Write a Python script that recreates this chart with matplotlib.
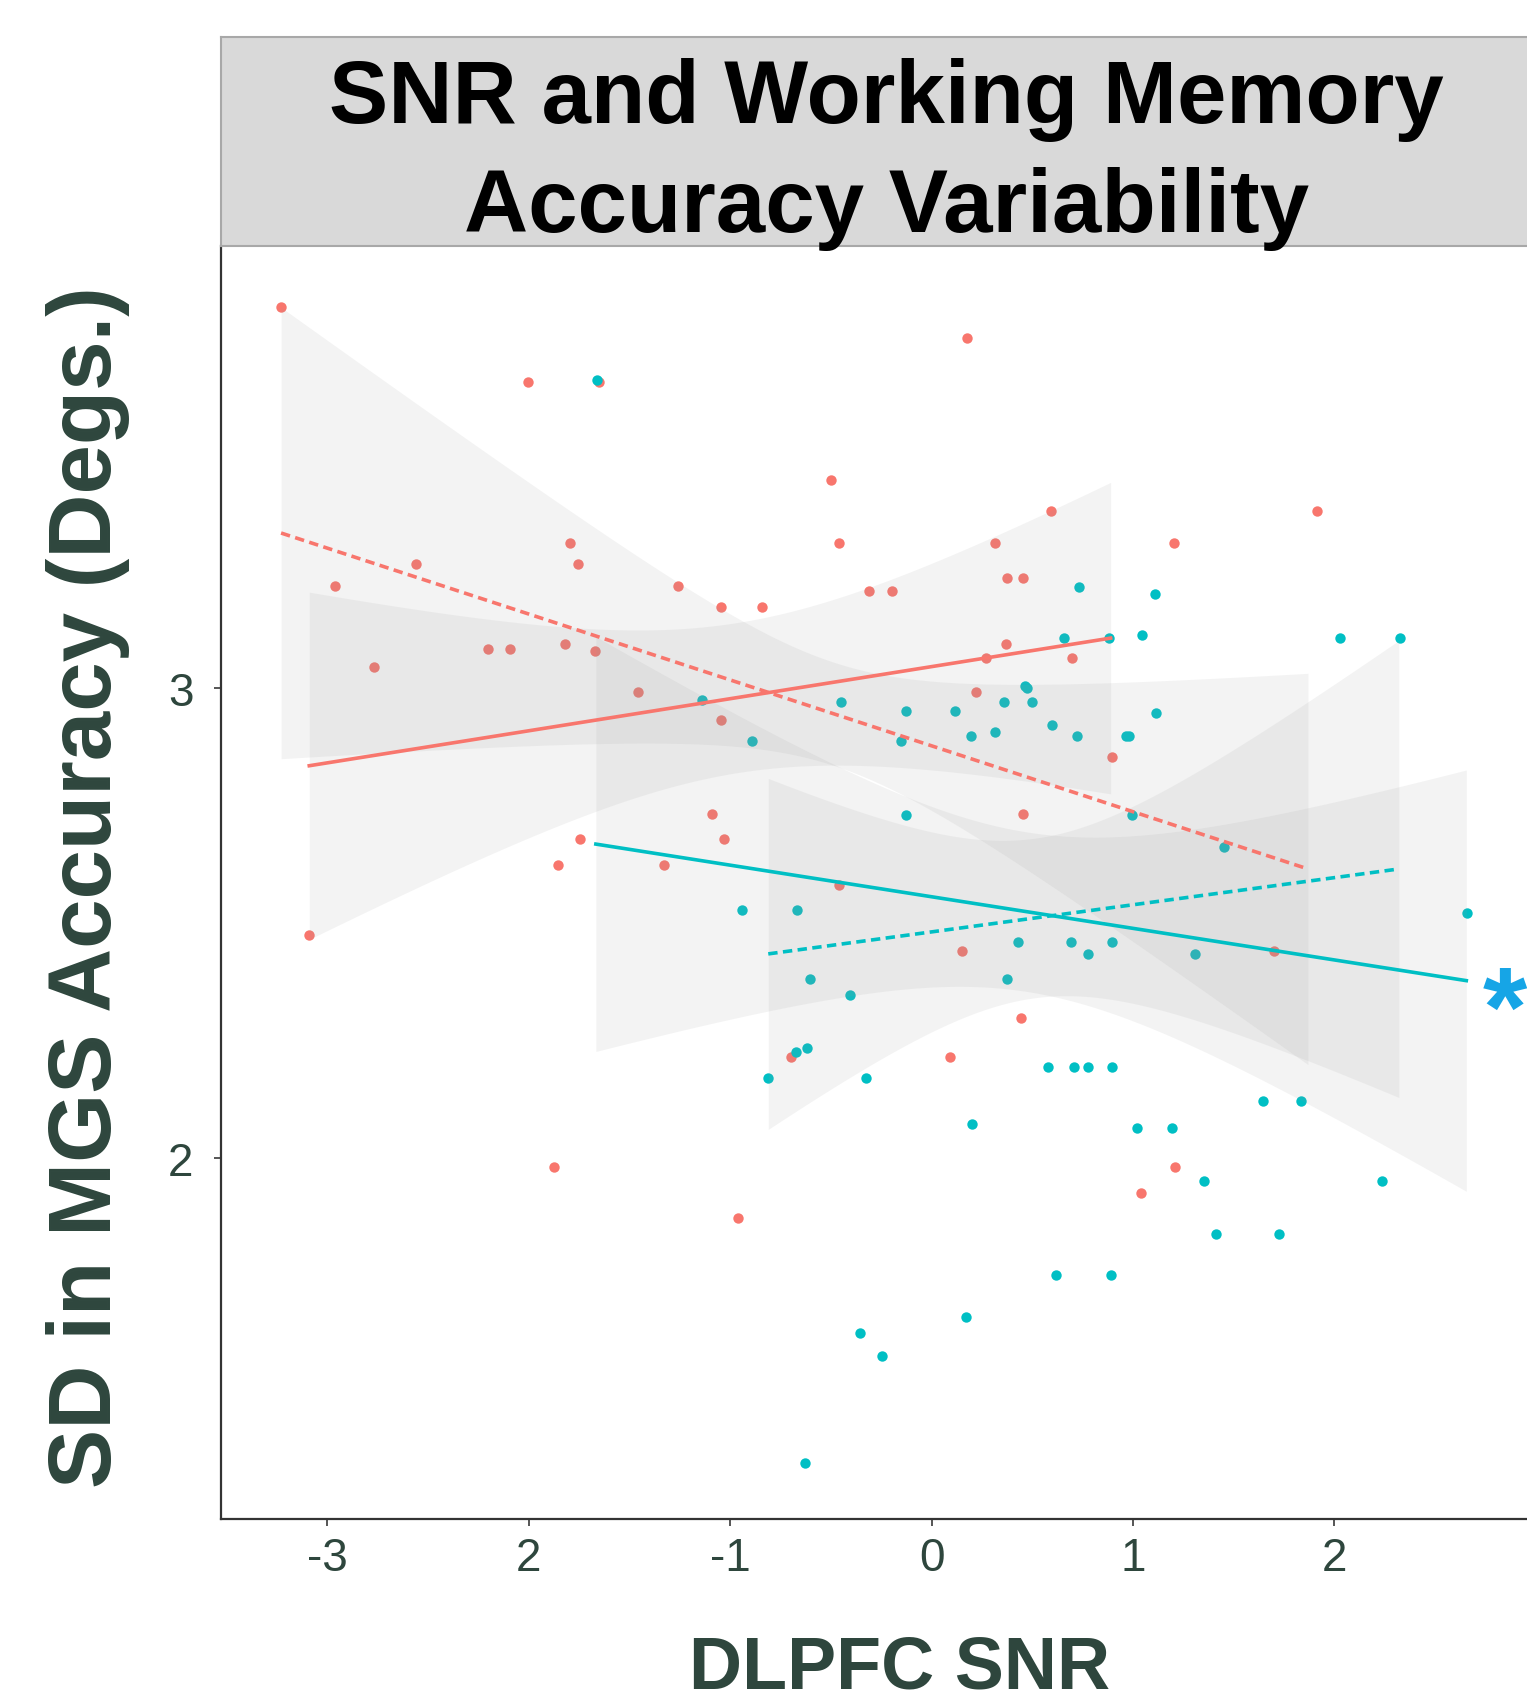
import numpy as np
import matplotlib
matplotlib.use("Agg")
import matplotlib.pyplot as plt

plt.rcParams['font.family'] = ['Liberation Sans', 'DejaVu Sans']

# ---------------- data ----------------
red_x = [-3.230, -2.002, -1.650, 0.178, -0.501, 0.595, 1.915, -1.795, -0.459, 0.314,
         1.203, -2.560, -1.754, 0.376, 0.455, -2.961, -1.258, -0.310, -0.199, -1.047,
         -0.840, -2.205, -2.093, -1.820, -1.671, 0.368, -2.771, 0.269, 0.699, -1.456,
         0.219, -1.047, 0.897, -1.092, 0.455, -1.030, -1.746, -1.857, -1.328, -0.459,
         -3.090, 0.149, 1.699, 0.446, 0.091, -0.699, -1.874, 1.211, 1.038, -0.960]
red_y = [3.812, 3.653, 3.653, 3.747, 3.445, 3.378, 3.378, 3.310, 3.310, 3.310,
         3.310, 3.265, 3.265, 3.235, 3.235, 3.219, 3.219, 3.208, 3.208, 3.174,
         3.174, 3.084, 3.084, 3.095, 3.079, 3.095, 3.046, 3.064, 3.064, 2.993,
         2.993, 2.933, 2.853, 2.732, 2.732, 2.679, 2.679, 2.623, 2.623, 2.580,
         2.475, 2.441, 2.441, 2.298, 2.215, 2.215, 1.980, 1.980, 1.925, 1.872]

teal_x = [-1.663, 0.732, 1.108, 0.657, 0.881, 1.046, 2.026, 2.324, 0.463, 0.475,
          -1.138, -0.451, 0.360, 0.500, -0.128, 0.116, 1.112, 0.599, 0.194, 0.314,
          0.723, 0.967, 0.980, -0.894, -0.153, -0.128, 0.996, 1.451, 2.659, -0.943,
          -0.666, 0.430, 0.690, 0.897, 0.777, 1.307, -0.604, 0.376, -0.406, -0.621,
          -0.674, -0.811, -0.327, 0.579, 0.707, 0.777, 0.897, 1.646, 1.836, 0.202,
          1.021, 1.195, 1.352, 2.237, 1.410, 1.724, 0.620, 0.889, 0.173, -0.357,
          -0.248, -0.627]
teal_y = [3.658, 3.216, 3.201, 3.107, 3.107, 3.114, 3.107, 3.107, 3.005, 3.000,
          2.975, 2.970, 2.970, 2.970, 2.951, 2.951, 2.948, 2.921, 2.899, 2.906,
          2.899, 2.899, 2.899, 2.887, 2.887, 2.729, 2.729, 2.661, 2.521, 2.528,
          2.528, 2.460, 2.460, 2.460, 2.434, 2.434, 2.381, 2.381, 2.347, 2.234,
          2.224, 2.169, 2.169, 2.192, 2.192, 2.192, 2.192, 2.120, 2.120, 2.071,
          2.063, 2.063, 1.950, 1.950, 1.838, 1.838, 1.749, 1.749, 1.660, 1.625,
          1.577, 1.349]

# regression fits (start/end of fitted line) and CI half widths
fit_color = ['red', 'red', 'teal', 'teal']
fit_style = ['dashed', 'solid', 'solid', 'dashed']
fit_x_start = [-3.230, -3.090, -1.667, -0.811]
fit_x_end = [1.869, 0.889, 2.655, 2.320]
fit_y_start = [3.331, 2.835, 2.668, 2.434]
fit_y_end = [2.615, 3.107, 2.377, 2.615]
ci_half_start = [0.481, 0.370, 0.442, 0.374]
ci_half_end = [0.417, 0.332, 0.449, 0.487]
ci_half_min = [0.11, 0.16, 0.17, 0.17]

x_ticks = [-3, -2, -1, 0, 1, 2]
x_tick_labels = ['-3', '2', '-1', '0', '1', '2']
y_ticks = [2, 3]
y_tick_labels = ['2', '3']

title_lines = ['SNR and Working Memory', 'Accuracy Variability']
x_label = 'DLPFC SNR'
y_label = 'SD in MGS Accuracy (Degs.)'

# ---------------- style ----------------
COL = {'red': '#F8766D', 'teal': '#00BFC4'}
TXT = '#2E463D'
W, H = 1527, 1706

fig = plt.figure(figsize=(W / 100, H / 100), dpi=100)
fig.patch.set_facecolor('white')

ax_l, ax_r, ax_t, ax_b = 221.4, 1552, 247, 1520
ax = fig.add_axes([ax_l / W, 1 - ax_b / H, (ax_r - ax_l) / W, (ax_b - ax_t) / H])
ax.set_xlim(-3.5263, 3.0805)
ax.set_ylim(1.2296, 3.9427)

ax.scatter(red_x, red_y, s=56, color=COL['red'], linewidths=0, zorder=2)
ax.scatter(teal_x, teal_y, s=56, color=COL['teal'], linewidths=0, zorder=2)

for i in range(len(fit_color)):
    xl, xr = fit_x_start[i], fit_x_end[i]
    yl, yr = fit_y_start[i], fit_y_end[i]
    hl, hr, a = ci_half_start[i], ci_half_end[i], ci_half_min[i]
    r = np.sqrt((hl ** 2 - a ** 2) / (hr ** 2 - a ** 2))
    x0 = (xl + r * xr) / (1 + r)
    b = np.sqrt(hl ** 2 - a ** 2) / (x0 - xl)
    xs = np.linspace(xl, xr, 200)
    ys = yl + (yr - yl) * (xs - xl) / (xr - xl)
    hw = np.sqrt(a ** 2 + (b * (xs - x0)) ** 2)
    ax.fill_between(xs, ys - hw, ys + hw, color='#999999', alpha=0.115,
                    linewidth=0, zorder=3)
    ls = (0, (2.6, 1.5)) if fit_style[i] == 'dashed' else '-'
    ax.plot(xs, ys, color=COL[fit_color[i]], lw=2.6, linestyle=ls, zorder=4)

ax.set_xticks(x_ticks)
ax.set_xticklabels(x_tick_labels)
ax.set_yticks(y_ticks)
ax.set_yticklabels(y_tick_labels)
ax.tick_params(axis='both', length=5, width=1.4, color='#555555',
               labelsize=33, labelcolor=TXT)
ax.tick_params(axis='x', pad=7)
ax.tick_params(axis='y', pad=15)
for s in ['top', 'right']:
    ax.spines[s].set_visible(False)
for s in ['left', 'bottom']:
    ax.spines[s].set_color('#333333')
    ax.spines[s].set_linewidth(1.6)

# strip title
st = fig.add_axes([ax_l / W, 1 - 247 / H, (ax_r - ax_l) / W, (247 - 38) / H])
st.set_facecolor('#D9D9D9')
st.set_xticks([])
st.set_yticks([])
for s in st.spines.values():
    s.set_color('#A8A8A8')
    s.set_linewidth(1.5)
fig.text(886 / W, 1 - 123 / H, title_lines[0], fontsize=64, fontweight='bold',
         color='black', ha='center', va='baseline')
fig.text(886 / W, 1 - 232 / H, title_lines[1], fontsize=64, fontweight='bold',
         color='black', ha='center', va='baseline')

# axis labels
fig.text(88 / W, 1 - 887 / H, y_label, fontsize=64, fontweight='bold', color=TXT,
         rotation=90, ha='center', va='center')
fig.text(900 / W, 1 - 1689 / H, x_label, fontsize=53, fontweight='bold', color=TXT,
         ha='center', va='baseline')

# significance marker
fig.text(1505 / W, 1 - 1046 / H, '*', fontsize=82, fontweight='bold',
         color='#16A5E6', ha='center', va='baseline')

fig.savefig('out.png', dpi=100)
